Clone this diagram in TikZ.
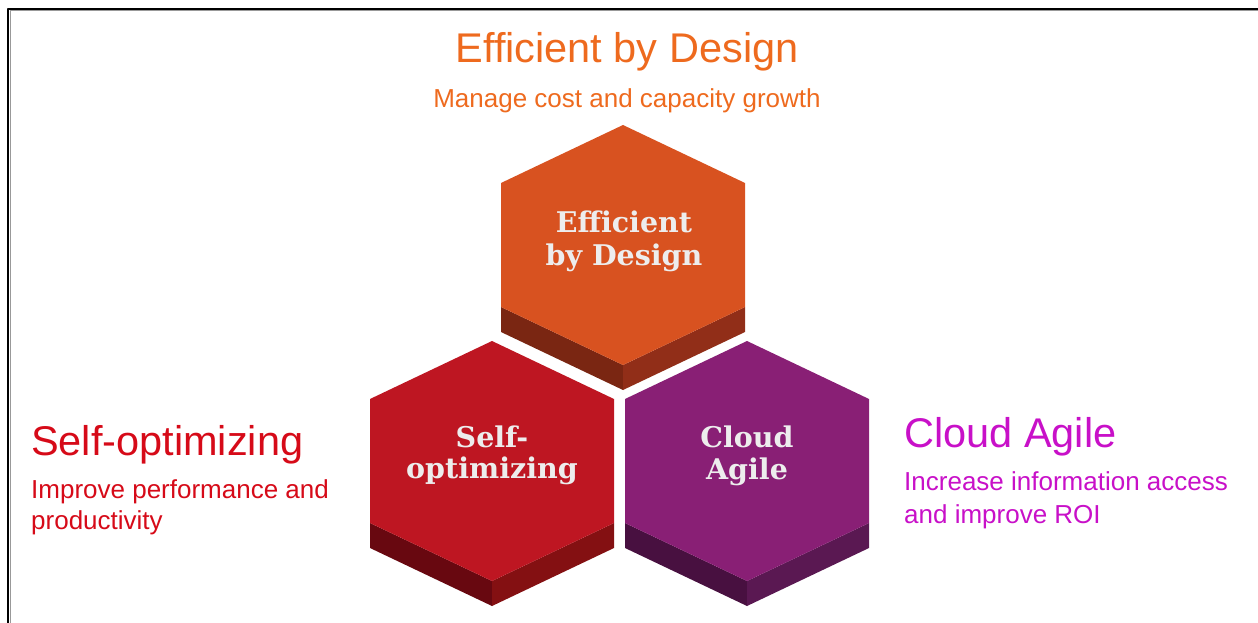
\documentclass[tikz,border=0pt]{standalone}
\usepackage{fontspec}
\setmainfont{Liberation Sans}
\newfontfamily\slabfont{DejaVu Serif}[BoldFont={DejaVu Serif Bold}]

\definecolor{effOrange}{RGB}{238,106,30}
\definecolor{effFace}{RGB}{216,82,32}
\definecolor{effLeft}{RGB}{122,38,18}
\definecolor{effRight}{RGB}{145,46,24}
\definecolor{selfRed}{RGB}{214,10,24}
\definecolor{selfFace}{RGB}{190,22,34}
\definecolor{selfLeft}{RGB}{104,8,16}
\definecolor{selfRight}{RGB}{132,16,18}
\definecolor{cloudPink}{RGB}{200,16,200}
\definecolor{cloudFace}{RGB}{137,31,117}
\definecolor{cloudLeft}{RGB}{72,16,64}
\definecolor{cloudRight}{RGB}{90,24,82}

\tikzset{
  title/.style={inner sep=0pt, font=\fontsize{41.5}{48}\selectfont},
  subtitle/.style={inner sep=0pt, font=\fontsize{26}{31}\selectfont},
  hexlabel/.style={inner sep=0pt, text=black!7, font=\slabfont\bfseries\fontsize{28.5}{33}\selectfont}
}

\begin{document}
\begin{tikzpicture}[line join=round, x=1pt, y=-1pt]

                \useasboundingbox (0,0) rectangle (1258,623);

                % frame, only top and left edges show
                \draw[black!40, line width=1] (10,623) -- (10,11) -- (1258,11);
                \draw[line width=2.2] (8,623) -- (8,9) -- (1258,9);

                % top hexagon
                \begin{scope}[shift={(623,245)}]
                \fill[effLeft] (-122,62) -- (-122,87) -- (0,145) -- (0,120) -- cycle;
                \fill[effRight] (122,62) -- (122,87) -- (0,145) -- (0,120) -- cycle;
                \fill[effFace] (0,-120) -- (122,-62) -- (122,62) -- (0,120) -- (-122,62) -- (-122,-62) -- cycle;
                \end{scope}

                % left hexagon
                \begin{scope}[shift={(492,461)}]
                \fill[selfLeft] (-122,62) -- (-122,87) -- (0,145) -- (0,120) -- cycle;
                \fill[selfRight] (122,62) -- (122,87) -- (0,145) -- (0,120) -- cycle;
                \fill[selfFace] (0,-120) -- (122,-62) -- (122,62) -- (0,120) -- (-122,62) -- (-122,-62) -- cycle;
                \end{scope}

                % right hexagon
                \begin{scope}[shift={(747,461)}]
                \fill[cloudLeft] (-122,62) -- (-122,87) -- (0,145) -- (0,120) -- cycle;
                \fill[cloudRight] (122,62) -- (122,87) -- (0,145) -- (0,120) -- cycle;
                \fill[cloudFace] (0,-120) -- (122,-62) -- (122,62) -- (0,120) -- (-122,62) -- (-122,-62) -- cycle;
                \end{scope}

                % labels on the hexagons
                \node[hexlabel, anchor=base] (effA) at (624,232) {Efficient};
                \node[hexlabel, anchor=base] (effB) at (624,265) {by Design};
                \node[hexlabel, anchor=base] (selfA) at (492,447) {Self-};
                \node[hexlabel, anchor=base] (selfB) at (492,478) {optimizing};
                \node[hexlabel, anchor=base] (cloudA) at (747,447) {Cloud};
                \node[hexlabel, anchor=base] (cloudB) at (747,479) {Agile};

                % captions
                \node[title, text=effOrange, anchor=base] (effTitle) at (627,63) {Efficient by Design};
                \node[subtitle, text=effOrange, anchor=base] (effText) at (627,108) {Manage cost and capacity growth};

                \node[title, text=selfRed, anchor=base west] (selfTitle) at (31,455) {Self-optimizing};
                \node[subtitle, text=selfRed, anchor=base west] (selfTextA) at (31,498) {Improve performance and};
                \node[subtitle, text=selfRed, anchor=base west] (selfTextB) at (31,529) {productivity};

                \node[title, text=cloudPink, anchor=base west] (cloudTitle) at (904,447) {Cloud Agile};
                \node[subtitle, text=cloudPink, anchor=base west] (cloudTextA) at (904,490) {Increase information access};
                \node[subtitle, text=cloudPink, anchor=base west] (cloudTextB) at (904,523) {and improve ROI};

            \end{tikzpicture}
\end{document}
